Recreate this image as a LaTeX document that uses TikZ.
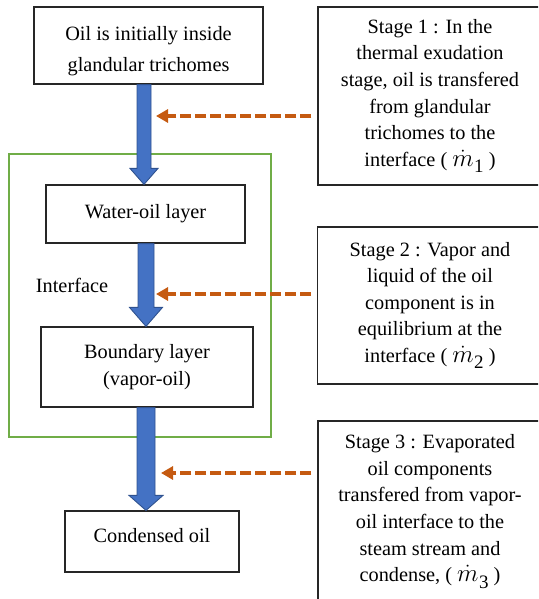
\documentclass[tikz,border=0pt]{standalone}
\usepackage{fontspec}
\setmainfont{Liberation Serif}
\usetikzlibrary{calc,arrows.meta}
\definecolor{arrowblue}{HTML}{4472C4}
\definecolor{arrowblueline}{HTML}{2F528F}
\definecolor{framegreen}{HTML}{70AD47}
\definecolor{dashorange}{HTML}{C55A11}
\newcommand\mdot[1]{{\fontsize{23}{26}\selectfont$\dot{m}$}\kern0.5pt\raisebox{-6.5pt}{\fontsize{19}{20}\selectfont #1}}
\newcommand\blockarrow[6]{%
  \coordinate (ba) at (#3,0);
  \filldraw[blockarrowstyle]
    ($(ba |- #1.south)+(-#4,0)$) -- ($(ba |- #2.north)+(-#4,-#6)$)
    -- ($(ba |- #2.north)+(-#5,-#6)$) -- (ba |- #2.north)
    -- ($(ba |- #2.north)+(#5,-#6)$) -- ($(ba |- #2.north)+(#4,-#6)$)
    -- ($(ba |- #1.south)+(#4,0)$) -- cycle;}
\begin{document}
\begin{tikzpicture}[x=1pt,y=-1pt,
  box/.style={draw=black!85, line width=1.2pt, inner sep=0pt, align=center,
    font=\fontsize{20.3}{26.6}\selectfont},
  txt/.style={inner sep=0pt, align=center, font=\fontsize{20.3}{26.6}\selectfont},
  frame/.style={draw=framegreen, line width=2.2pt, inner sep=0pt},
  blockarrowstyle/.style={fill=arrowblue, draw=arrowblueline, line width=0.9pt, line join=miter},
  dasharrow/.style={draw=dashorange, line width=3.4pt, dash pattern=on 11pt off 4pt,
    -{Triangle[length=12pt,width=13pt]}, shorten <=6pt}]

\clip (0,0) rectangle (538,599);

% grouping frame
\node[frame, minimum width=262.4pt, minimum height=283pt] (grp) at (139.8,295.5) {};

% left column
\node[box, minimum width=229pt, minimum height=77pt, font=\fontsize{20.3}{31}\selectfont]
  (top) at (148.5,45.5) {\rule{0pt}{25pt}Oil is initially inside\\glandular trichomes};
\node[box, minimum width=199pt, minimum height=58pt] (water) at (145.5,214) {Water-oil layer};
\node[box, minimum width=212pt, minimum height=80pt, font=\fontsize{20.3}{27}\selectfont]
  (bound) at (147,367) {Boundary layer\\(vapor-oil)};
\node[box, minimum width=174pt, minimum height=61pt] (cond) at (152,541.5)
  {\rule[-13pt]{0pt}{13pt}Condensed oil};
\node[txt] (iface) at (72,285) {Interface};

% right column
\node[box, minimum width=224pt, minimum height=178pt] (s1) at (430,96)
  {Stage 1 : In the\\thermal exudation\\stage, oil is transfered\\from glandular\\trichomes to the\\interface ( \mdot{1} )};
\node[box, minimum width=224.5pt, minimum height=157pt] (s2) at (430,305.5)
  {Stage 2 : Vapor and\\liquid of the oil\\component is in\\equilibrium at the\\interface ( \mdot{2} )};
\node[box, minimum width=224pt, minimum height=181pt] (s3) at (430,511.5)
  {Stage 3 : Evaporated\\oil components\\transfered from vapor-\\oil interface to the\\steam stream and\\condense, ( \mdot{3} )};

% block arrows
\blockarrow{top}{water}{144}{7}{14}{16}
\blockarrow{water}{bound}{146}{8}{16.5}{19}
\blockarrow{bound}{cond}{146}{9}{17}{15}

% dashed arrows
\coordinate (d1) at (156,116);
\coordinate (d2) at (156,294);
\coordinate (d3) at (161,473);
\draw[dasharrow] (s1.west |- d1) -- (d1);
\draw[dasharrow] (s2.west |- d2) -- (d2);
\draw[dasharrow] (s3.west |- d3) -- (d3);
\end{tikzpicture}
\end{document}
